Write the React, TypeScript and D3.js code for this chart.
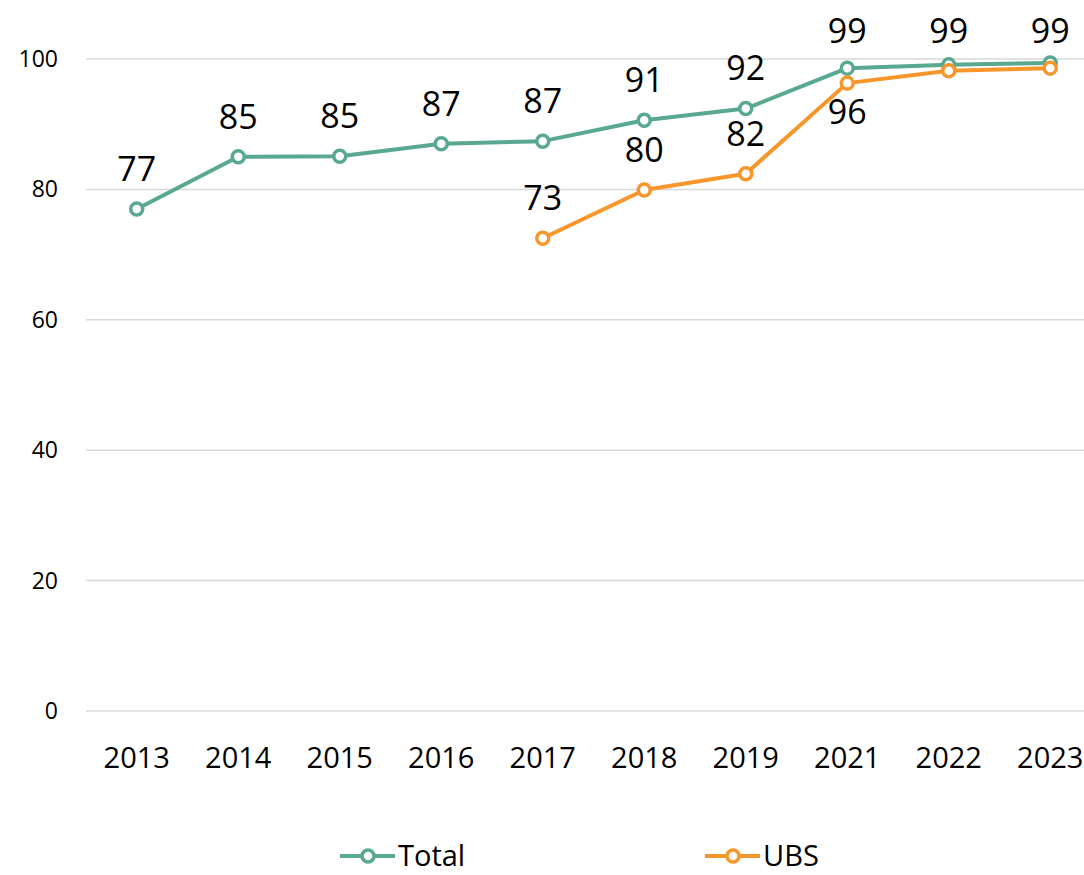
import React, { useEffect, useRef } from "react";
import * as d3 from "d3";

const years = ["2013", "2014", "2015", "2016", "2017", "2018", "2019", "2021", "2022", "2023"];
const totalValues = [77.0, 85.0, 85.1, 87.0, 87.4, 90.6, 92.4, 98.6, 99.1, 99.4];
const ubsValues: (number | null)[] = [null, null, null, null, 72.5, 79.9, 82.4, 96.3, 98.2, 98.6];
// label placement for each series point: "above", "below" or "" for none
const totalLabelPos = ["above", "above", "above", "above", "above", "above", "above", "above", "above", "above"];
const ubsLabelPos = ["", "", "", "", "above", "above", "above", "below", "", ""];
const yTicks = [0, 20, 40, 60, 80, 100];

const FONT = '"Segoe UI", "Open Sans", sans-serif';

const App = () => {
  const ref = useRef<SVGSVGElement>(null);

  useEffect(() => {
    const width = 1084;
    const height = 875;
    const svg = d3.select(ref.current);
    svg.selectAll("*").remove();

    const x = d3.scaleBand().domain(years).range([86, 1101]).padding(0);
    const y = d3.scaleLinear().domain([0, 100]).range([711, 59]);
    const cx = (yr: string) => (x(yr) as number) + x.bandwidth() / 2;

    // gridlines
    svg.append("g")
      .selectAll("line")
      .data(yTicks)
      .join("line")
      .attr("x1", 86)
      .attr("x2", width)
      .attr("y1", d => y(d))
      .attr("y2", d => y(d))
      .attr("stroke", "#d9d9d9")
      .attr("stroke-width", 1.5);

    // y tick labels
    svg.append("g")
      .selectAll("text")
      .data(yTicks)
      .join("text")
      .attr("x", 58)
      .attr("y", d => y(d))
      .attr("dy", "0.35em")
      .attr("text-anchor", "end")
      .style("font", `23px ${FONT}`)
      .attr("fill", "#000")
      .text(d => d);

    // x tick labels
    svg.append("g")
      .selectAll("text")
      .data(years)
      .join("text")
      .attr("x", d => cx(d))
      .attr("y", 758)
      .attr("dy", "0.35em")
      .attr("text-anchor", "middle")
      .style("font", `29px ${FONT}`)
      .attr("fill", "#000")
      .text(d => d);

    const series = [
      { name: "Total", values: totalValues as (number | null)[], color: "#58A892", labels: totalLabelPos },
      { name: "UBS", values: ubsValues, color: "#F7962B", labels: ubsLabelPos },
    ];

    const line = d3.line<[string, number | null]>()
      .defined(d => d[1] != null)
      .x(d => cx(d[0]))
      .y(d => y(d[1] as number));

    series.forEach(s => {
      const pts = years.map((yr, i) => [yr, s.values[i]] as [string, number | null]);
      svg.append("path")
        .datum(pts)
        .attr("fill", "none")
        .attr("stroke", s.color)
        .attr("stroke-width", 4)
        .attr("stroke-linejoin", "round")
        .attr("d", line);

      svg.append("g")
        .selectAll("circle")
        .data(pts.filter(d => d[1] != null))
        .join("circle")
        .attr("cx", d => cx(d[0]))
        .attr("cy", d => y(d[1] as number))
        .attr("r", 6)
        .attr("fill", "#fff")
        .attr("stroke", s.color)
        .attr("stroke-width", 3.5);
    });

    // data labels drawn after all lines (kept inside the top of the chart)
    series.forEach(s => {
      const lbls = years
        .map((yr, i) => ({ yr, v: s.values[i], pos: s.labels[i] }))
        .filter(d => d.v != null && d.pos !== "");
      svg.append("g")
        .selectAll("text")
        .data(lbls)
        .join("text")
        .attr("x", d => cx(d.yr))
        .attr("y", d => Math.max(31, y(d.v as number) + (d.pos === "above" ? -40 : 29)))
        .attr("dy", "0.35em")
        .attr("text-anchor", "middle")
        .style("font", `34px ${FONT}`)
        .attr("fill", "#000")
        .text(d => Math.round(d.v as number));
    });

    // legend
    const legend = svg.append("g");
    const legendItems = [
      { name: "Total", color: "#58A892", x0: 340 },
      { name: "UBS", color: "#F7962B", x0: 705 },
    ];
    const ly = 856;
    legendItems.forEach(l => {
      const g = legend.append("g");
      g.append("line")
        .attr("x1", l.x0).attr("x2", l.x0 + 55)
        .attr("y1", ly).attr("y2", ly)
        .attr("stroke", l.color).attr("stroke-width", 4);
      g.append("circle")
        .attr("cx", l.x0 + 28).attr("cy", ly).attr("r", 6)
        .attr("fill", "#fff").attr("stroke", l.color).attr("stroke-width", 3.5);
      g.append("text")
        .attr("x", l.x0 + 58).attr("y", ly).attr("dy", "0.35em")
        .style("font", `29px ${FONT}`)
        .attr("fill", "#000")
        .text(l.name);
    });

    svg.attr("width", width).attr("height", height);
  }, []);

  return (
    <div style={{ position: "fixed", left: 0, top: 0, width: 1084, height: 875, background: "#fff", overflow: "hidden" }}>
      <svg ref={ref} width={1084} height={875} style={{ display: "block" }} />
    </div>
  );
};

export default App;
